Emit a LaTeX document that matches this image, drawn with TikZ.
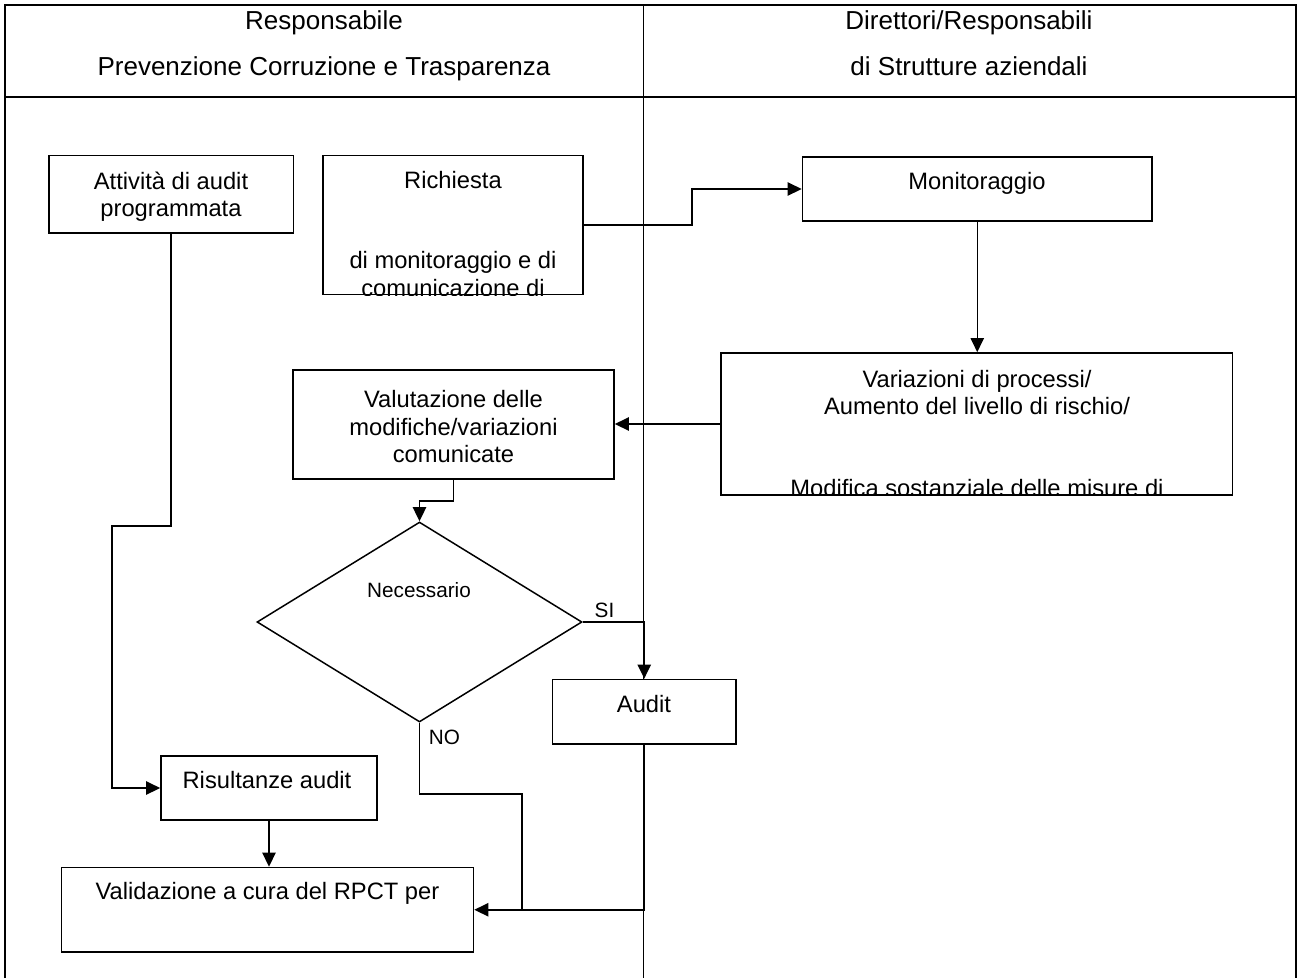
\documentclass[tikz,border=0pt]{standalone}
\usepackage{fontspec}
\setmainfont{Liberation Sans}
\usetikzlibrary{arrows.meta,fit,shapes.geometric}
\begin{document}
\begin{tikzpicture}[x=0.02cm,y=-0.02cm,
  frame/.style={line width=0.75pt},
  box/.style={draw,fill=white,line width=0.9pt,inner sep=0pt,rectangle},
  dbox/.style={draw,fill=white,line width=0.85pt,inner sep=0pt,diamond},
  conn/.style={line width=1.1pt},
  arr/.style={conn,-{Triangle[length=8pt,width=7.5pt]}},
  body/.style={inner sep=0pt,anchor=base,font=\fontsize{13.5}{16}\selectfont},
  head/.style={inner sep=0pt,anchor=base,font=\fontsize{14.8}{18}\selectfont},
  small/.style={inner sep=0pt,anchor=base,font=\fontsize{11.8}{14}\selectfont}]

\useasboundingbox (0,0) rectangle (1299,978);

% table frame
\draw[frame] (5,978) -- (5,5) -- (1296,5) -- (1296,978);
\draw[frame] (5,97) -- (1296,97);
\draw[frame] (643.5,5) -- (643.5,978);

% headers
\node[head] (h1a) at (324,29.3) {Responsabile};
\node[head] (h1b) at (324,75) {Prevenzione Corruzione e Trasparenza};
\node[head] (h2a) at (969,29.3) {Direttori/Responsabili};
\node[head] (h2b) at (969,75) {di Strutture aziendali};

% boxes
\node[box,fit={(49,155.5) (293.5,233)}] (att) {};
\node[box,fit={(323,155.5) (583,294.5)}] (rich) {};
\node[box,fit={(802.5,157) (1152,221)}] (mon) {};
\node[box,fit={(721,353) (1232.5,495)}] (var) {};
\node[box,fit={(293,370) (614,479)}] (val) {};
\node[dbox,minimum width=325*0.02cm,minimum height=200*0.02cm] (dec) at (419.5,622) {};
\node[box,line width=1pt,fit={(552.5,679.5) (736,744)}] (aud) {};
\node[box,fit={(161,756) (377,820)}] (ris) {};
\node[box,fit={(61.5,867.5) (473.5,952)}] (vld) {};

% texts
\node[body] (tatt1) at (171,189) {Attività di audit};
\node[body] (tatt2) at (171,216) {programmata};
\node[body] (trich1) at (453,188) {Richiesta};
\begin{scope}
  \clip (rich.south west) rectangle (rich.north east);
  \node[body] (trich2) at (453,268) {di monitoraggio e di};
  \node[body] (trich3) at (453,296) {comunicazione di};
\end{scope}
\node[body] (tmon) at (977,189) {Monitoraggio};
\node[body] (tvar1) at (977,387) {Variazioni di processi/};
\node[body] (tvar2) at (977,414) {Aumento del livello di rischio/};
\begin{scope}
  \clip (var.south west) rectangle (var.north east);
  \node[body] (tvar3) at (977,496) {Modifica sostanziale delle misure di};
\end{scope}
\node[body] (tval1) at (453.5,407.5) {Valutazione delle};
\node[body] (tval2) at (453.5,435) {modifiche/variazioni};
\node[body] (tval3) at (453.5,462.5) {comunicate};
\node[small] (tdec) at (419,597) {Necessario};
\node[small] (tsi) at (604.5,617) {SI};
\node[small] (tno) at (444.5,744) {NO};
\node[body] (taud) at (644,712) {Audit};
\node[body] (tris) at (267,788) {Risultanze audit};
\node[body] (tvld) at (267.5,899) {Validazione a cura del RPCT per};

% connectors
\draw[arr] (rich.east) -| (692,189) -- (mon.west);
\draw[arr,line width=0.85pt] (mon.south) -- (mon.south |- var.north);
\draw[arr] (var.west) -- (val.east |- var.west);
\draw[arr] (val.south) -- ++(0,21) -| (dec.north);
\draw[arr] (dec.east) -| (aud.north);
\draw[conn] (dec.south) -- (dec.south |- 0,794) -| (522,910);
\draw[arr] (aud.south) |- (vld.east);
\draw[arr] (att.south) |- (112,526) |- (ris.west);
\draw[arr] (ris.south) -- (ris.south |- vld.north);
\end{tikzpicture}
\end{document}
